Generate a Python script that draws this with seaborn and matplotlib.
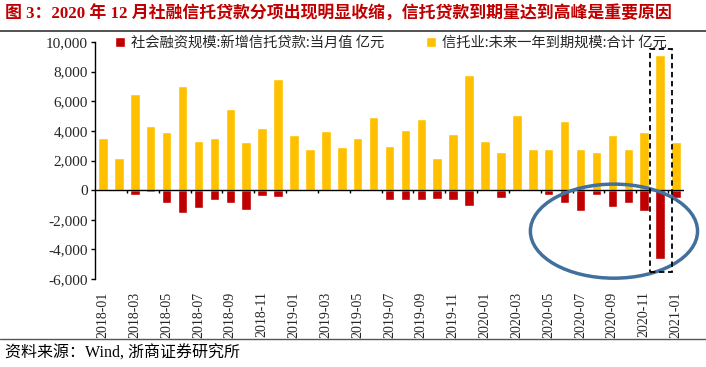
import numpy as np
import pandas as pd
import matplotlib
matplotlib.use("Agg")
import matplotlib.pyplot as plt
from matplotlib.patches import Ellipse, Rectangle
from matplotlib.lines import Line2D
import seaborn as sns

months = pd.date_range("2018-01", "2021-01", freq="MS").strftime("%Y-%m").tolist()

new_trust_loans = [400, 700, -300, -100, -900, -1550, -1200, -700, -870, -1350, -420, -490,
                   400, 200, 500, 100, 300, 100, -700, -670, -690, -600, -670, -1100,
                   300, -530, 100, 100, -360, -840, -1380, -330, -1130, -890, -1380, -4620, -500]

maturity_next_year = [3500, 2200, 6500, 4300, 3900, 7050, 3300, 3500, 5450, 3250, 4200, 7500,
                      3700, 2750, 4000, 2900, 3500, 4950, 3000, 4050, 4800, 2200, 3800, 7800,
                      3300, 2600, 5100, 2800, 2750, 4700, 2800, 2600, 3700, 2800, 3900, 9150, 3250]

label_red = "社会融资规模:新增信托贷款:当月值 亿元"
label_org = "信托业:未来一年到期规模:合计 亿元"
tick_labels = months[::2]

RED = "#C00000"
ORANGE = "#FFC000"

sns.set_theme(style="white")
plt.rcParams["font.family"] = ["Liberation Serif", "Noto Sans CJK SC", "DejaVu Sans"]
plt.rcParams["axes.unicode_minus"] = False

df = pd.DataFrame({"month": months, "red": new_trust_loans, "org": maturity_next_year})

fig = plt.figure(figsize=(7.06, 3.67), dpi=100)
ax = fig.add_axes([95 / 706, 1 - 279 / 367, 589 / 706, 237 / 367])

sns.barplot(data=df, x="month", y="red", color=RED, width=0.6, ax=ax,
            saturation=1, label=label_red, zorder=2)
sns.barplot(data=df, x="month", y="org", color=ORANGE, width=0.6, ax=ax,
            saturation=1, label=label_org, zorder=3)

ax.set_xlim(-0.5, len(months) - 0.5)
ax.set_ylim(-6000, 10000)
ax.set_yticks(np.arange(-6000, 10001, 2000))
ax.set_yticklabels([f"{v:,.0f}" for v in np.arange(-6000, 10001, 2000)],
                   fontsize=11, family="Liberation Serif")
ax.set_xticks(range(0, len(months), 2))
ax.set_xticklabels(tick_labels, rotation=90, fontsize=10, family="Liberation Serif")
ax.tick_params(axis="x", length=0, pad=9)
ax.tick_params(axis="y", length=3, width=1, direction="out", left=True, pad=2, color="black")
ax.set_xlabel("")
ax.set_ylabel("")
for s in ["top", "right", "bottom"]:
    ax.spines[s].set_visible(False)
ax.spines["left"].set_color("black")
ax.spines["left"].set_linewidth(1)
ax.axhline(0, color="black", lw=1, zorder=4)
ax.vlines(np.arange(1.5, len(months) - 1, 2), -200, 0, color="black", lw=1, zorder=4)

# annotations
ax.add_patch(Ellipse((32.1, -2770), 10.5, 6350, fill=False, edgecolor="#41709C",
                     lw=2.5, zorder=5, clip_on=False))
ax.add_patch(Rectangle((34.36, -5540), 1.38, 15070, fill=False, edgecolor="black",
                       lw=1.3, ls=(0, (3, 2)), zorder=5, clip_on=False))

leg = ax.legend(loc="upper left", bbox_to_anchor=(0.025, 1.05), ncol=2, frameon=False,
                prop={"family": ["Noto Sans CJK SC"], "size": 10.3},
                handlelength=0.7, handleheight=0.7, handletextpad=0.4,
                columnspacing=2.9, borderaxespad=0)

fig.text(0.007, 0.962, "图 3：2020 年 12 月社融信托贷款分项出现明显收缩，信托贷款到期量达到高峰是重要原因",
         color="#C00000", fontsize=12.2, fontweight="bold", va="center", ha="left",
         family=["Liberation Serif", "Noto Sans CJK SC"])
fig.text(0.007, 0.038, "资料来源：Wind, 浙商证券研究所", color="black", fontsize=11.5,
         va="center", ha="left", family=["Liberation Serif", "Noto Sans CJK SC"])
fig.add_artist(Line2D([0, 1], [1 - 31 / 367] * 2, transform=fig.transFigure, color="#333333", lw=1.2))
fig.add_artist(Line2D([0, 1], [1 - 339 / 367] * 2, transform=fig.transFigure, color="#555555", lw=1))

fig.savefig("out.png", dpi=100)
